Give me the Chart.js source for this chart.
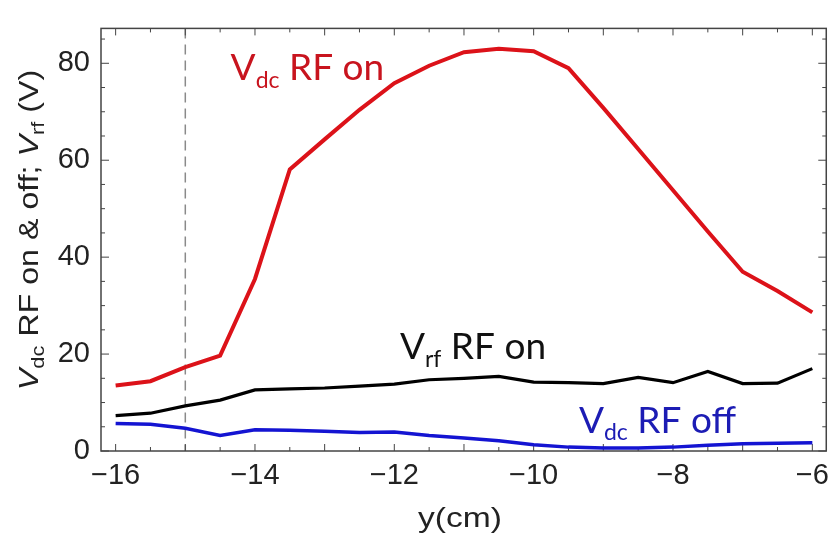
<!DOCTYPE html>
<html>
<head>
<meta charset="utf-8">
<script src="https://cdn.jsdelivr.net/npm/chart.js@4.4.1/dist/chart.umd.min.js"></script>
<style>
html,body{margin:0;padding:0;background:#fff;}
</style>
</head>
<body>
<canvas id="canvas" width="837" height="546"></canvas>
<script>
// position along y (cm)
const yPos = [-16,-15.5,-15,-14.5,-14,-13.5,-13,-12.5,-12,-11.5,-11,-10.5,-10,-9.5,-9,-8.5,-8,-7.5,-7,-6.5,-6];
// Vdc with RF on (V)
const vdcOn = [13.5,14.4,17.3,19.7,35.5,58.1,64.3,70.4,75.9,79.5,82.3,83.0,82.5,79.0,70.8,62.3,53.8,45.3,37.0,33.0,28.6];
// Vrf with RF on (V)
const vrfOn = [7.3,7.8,9.3,10.5,12.6,12.8,13.0,13.4,13.8,14.7,15.0,15.4,14.2,14.1,13.9,15.2,14.1,16.4,13.9,14.0,17.0];
// Vdc with RF off (V)
const vdcOff = [5.7,5.5,4.7,3.2,4.4,4.3,4.1,3.8,3.9,3.2,2.7,2.1,1.3,0.8,0.6,0.6,0.8,1.2,1.5,1.6,1.7];

const xTicks = [-16,-14,-12,-10,-8,-6];
const yTicks = [0,20,40,60,80];
const markerY = -15;

const fam = '"Liberation Sans", Arial, sans-serif';
const tickFont = {family:fam, size:29};
const lblFont = '"Lato", "Open Sans", sans-serif';

function fmt(v){ return v < 0 ? '\u2212' + Math.abs(v) : String(v); }

function drawRich(ctx, x, y, parts, color){
  ctx.fillStyle = color;
  ctx.textAlign = 'left';
  ctx.textBaseline = 'alphabetic';
  let cx = x;
  for (const p of parts){
    ctx.font = p.font;
    ctx.fillText(p.t, cx, y + (p.dy || 0));
    cx += ctx.measureText(p.t).width;
  }
  return cx - x;
}

function richWidth(ctx, parts){
  let w = 0;
  for (const p of parts){ ctx.font = p.font; w += ctx.measureText(p.t).width; }
  return w;
}

const frame = {
  id: 'frame',
  beforeDatasetsDraw(chart){
    const {ctx, chartArea:a, scales:{x, y}} = chart;
    ctx.save();
    // dashed marker line
    const px = x.getPixelForValue(markerY);
    ctx.strokeStyle = '#8a8a8a';
    ctx.lineWidth = 1.5;
    ctx.setLineDash([10, 6]);
    ctx.beginPath(); ctx.moveTo(px, a.top); ctx.lineTo(px, a.bottom); ctx.stroke();
    ctx.setLineDash([]);
    // box
    ctx.strokeStyle = '#444';
    ctx.lineWidth = 1.5;
    ctx.strokeRect(a.left, a.top, a.right - a.left, a.bottom - a.top);
    // inward ticks
    ctx.lineWidth = 1;
    ctx.beginPath();
    for (let i = 0; i <= 20; i++){
      const v = -16 + i * 0.5;
      const p = x.getPixelForValue(v);
      const len = i % 2 === 0 ? 7 : 4;
      ctx.moveTo(p, a.bottom); ctx.lineTo(p, a.bottom - len);
      ctx.moveTo(p, a.top); ctx.lineTo(p, a.top + len);
    }
    for (let i = 0; i <= 17; i++){
      const v = i * 5;
      const p = y.getPixelForValue(v);
      const len = i % 4 === 0 ? 8 : 4;
      ctx.moveTo(a.left, p); ctx.lineTo(a.left + len, p);
      ctx.moveTo(a.right, p); ctx.lineTo(a.right - len, p);
    }
    ctx.stroke();
    ctx.restore();
  },
  afterDatasetsDraw(chart){
    const {ctx, chartArea:a, scales:{x, y}} = chart;
    ctx.save();
    const big = '37px ' + lblFont, sub = '23px ' + lblFont;
    drawRich(ctx, x.getPixelForValue(-14.35), y.getPixelForValue(76.6),
      [{t:'V', font:big}, {t:'dc', font:sub, dy:8}, {t:' RF on', font:big}], '#c8141e');
    drawRich(ctx, x.getPixelForValue(-11.92), y.getPixelForValue(19.0),
      [{t:'V', font:big}, {t:'rf', font:sub, dy:8}, {t:' RF on', font:big}], '#111');
    drawRich(ctx, x.getPixelForValue(-9.35), y.getPixelForValue(3.75),
      [{t:'V', font:big}, {t:'dc', font:sub, dy:7}, {t:' RF off', font:big}], '#1c1cb4');

    // x axis title
    ctx.save();
    ctx.translate(460, 527);
    ctx.scale(1.2, 1);
    const xt = [{t:'y(cm)', font:'28px ' + fam}];
    drawRich(ctx, -richWidth(ctx, xt) / 2, 0, xt, '#222');
    ctx.restore();

    // y axis title
    const parts = [
      {t:'V', font:'italic 28px ' + fam}, {t:'dc', font:'19px ' + fam, dy:6},
      {t:' RF on & off; ', font:'28px ' + fam},
      {t:'V', font:'italic 28px ' + fam}, {t:'rf', font:'19px ' + fam, dy:6},
      {t:' (V)', font:'28px ' + fam}
    ];
    ctx.translate(38, 230);
    ctx.rotate(-Math.PI / 2);
    ctx.scale(1.15, 1);
    const w = richWidth(ctx, parts);
    drawRich(ctx, -w / 2, 0, parts, '#222');
    ctx.restore();
  }
};

new Chart(document.getElementById('canvas'), {
  type: 'line',
  data: {
    labels: yPos,
    datasets: [
      {label:'Vdc RF on', data: yPos.map((v, i) => ({x:v, y:vdcOn[i]})), borderColor:'#dc1219', borderWidth:4},
      {label:'Vrf RF on', data: yPos.map((v, i) => ({x:v, y:vrfOn[i]})), borderColor:'#000', borderWidth:3.2},
      {label:'Vdc RF off', data: yPos.map((v, i) => ({x:v, y:vdcOff[i]})), borderColor:'#1414d2', borderWidth:3.5}
    ]
  },
  options: {
    responsive: false,
    animation: false,
    devicePixelRatio: 1,
    elements: {point:{radius:0}, line:{tension:0}},
    layout: {padding:{top:2, right:7, left:0, bottom:0}},
    plugins: {legend:{display:false}, tooltip:{enabled:false}},
    scales: {
      x: {
        type: 'linear', min: -16.21, max: -5.8,
        afterBuildTicks: s => { s.ticks = xTicks.map(v => ({value:v})); },
        afterFit: s => { s.height = 95; },
        grid: {display:false, drawTicks:false},
        border: {display:false},
        ticks: {font:tickFont, color:'#222', padding:8, maxRotation:0, autoSkip:false, callback: v => fmt(v)}
      },
      y: {
        min: 0, max: 87.2,
        afterBuildTicks: s => { s.ticks = yTicks.map(v => ({value:v})); },
        afterFit: s => { s.width = 101; },
        grid: {display:false, drawTicks:false},
        border: {display:false},
        ticks: {font:tickFont, color:'#222', padding:11, callback: v => fmt(v)}
      }
    }
  },
  plugins: [frame]
});
</script>
</body>
</html>
